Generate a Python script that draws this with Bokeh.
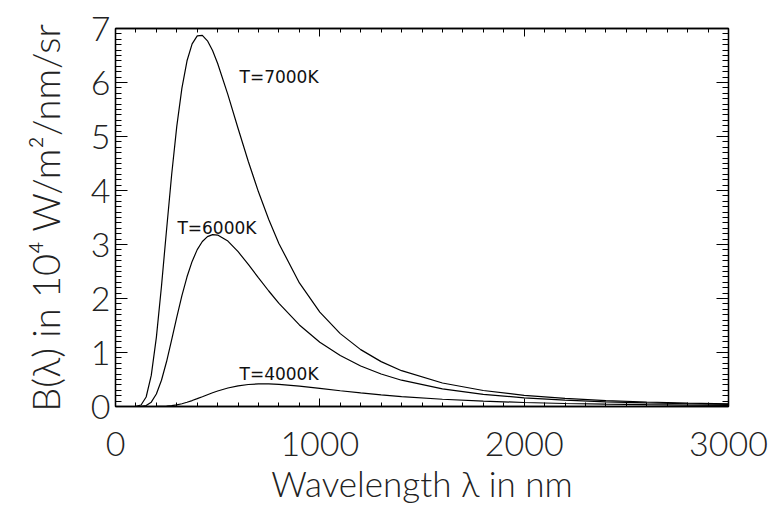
from bokeh.plotting import figure
from bokeh.models import Range1d, FixedTicker, LinearAxis, Label, CustomLabelingPolicy
from bokeh.embed import file_html
from bokeh.resources import INLINE

# Wavelength samples (nm) and spectral radiance (10^4 W/m^2/nm/sr)
wavelength_nm = [10, 100, 125, 150, 175, 200, 225, 250, 275, 300, 325, 350, 375, 400,
                 425, 450, 475, 500, 550, 600, 650, 700, 750, 800, 900, 1000, 1100,
                 1200, 1300, 1400, 1600, 1800, 2000, 2200, 2400, 2600, 2800, 3000]
b_7000 = [0.0, 0.0014, 0.028, 0.176, 0.575, 1.281, 2.227, 3.279, 4.300, 5.191, 5.897,
          6.402, 6.716, 6.863, 6.872, 6.772, 6.591, 6.352, 5.776, 5.149, 4.537, 3.971,
          3.462, 3.015, 2.288, 1.749, 1.350, 1.053, 0.831, 0.663, 0.435, 0.296, 0.207,
          0.150, 0.110, 0.083, 0.064, 0.050]
b_6000 = [0.0, 0.0, 0.002, 0.018, 0.081, 0.231, 0.486, 0.833, 1.237, 1.656, 2.053,
          2.402, 2.687, 2.905, 3.055, 3.145, 3.182, 3.175, 3.063, 2.867, 2.631, 2.382,
          2.139, 1.909, 1.510, 1.191, 0.943, 0.751, 0.602, 0.487, 0.327, 0.226, 0.161,
          0.117, 0.087, 0.066, 0.051, 0.040]
b_4000 = [0.0, 0.0, 0.0, 0.0, 0.0001, 0.0006, 0.0024, 0.0069, 0.0158, 0.0304, 0.0513,
          0.078, 0.110, 0.145, 0.181, 0.218, 0.254, 0.287, 0.342, 0.383, 0.407, 0.418,
          0.418, 0.410, 0.378, 0.336, 0.292, 0.251, 0.215, 0.184, 0.134, 0.099, 0.074,
          0.056, 0.043, 0.034, 0.027, 0.021]

curve_labels = ["T=7000K", "T=6000K", "T=4000K"]
x_ticks = [0, 1000, 2000, 3000]
y_ticks = [0, 1, 2, 3, 4, 5, 6, 7]
x_title = "Wavelength λ in nm"
y_title = "B(λ) in 10⁴ W/m²/nm/sr"

FONT = "Lato Light"
TXT = "#222222"

p = figure(frame_width=613, frame_height=378,
           min_border_left=115, min_border_right=48,
           min_border_top=28, min_border_bottom=99,
           x_range=Range1d(0, 3000), y_range=Range1d(0, 7),
           output_backend="svg", toolbar_location=None,
           background_fill_color="white", border_fill_color="white")
p.xgrid.visible = False
p.ygrid.visible = False
p.outline_line_color = "black"
p.outline_line_width = 1.3

x_ticker = FixedTicker(ticks=x_ticks, minor_ticks=list(range(0, 3001, 100)))
y_ticker = FixedTicker(ticks=y_ticks, minor_ticks=[i / 10 for i in range(71)])

hide_labels = CustomLabelingPolicy(
    code="for (let i = 0; i < indices.size; i++) { indices.unset(i) }\nreturn indices")


def style_axis(ax, ticker, major_len, show_labels):
    ax.ticker = ticker
    ax.axis_line_color = "black"
    ax.axis_line_width = 1.3
    ax.major_tick_in = major_len
    ax.major_tick_out = 0
    ax.minor_tick_in = major_len // 2
    ax.minor_tick_out = 0
    ax.major_tick_line_color = "black"
    ax.minor_tick_line_color = "black"
    ax.major_tick_line_width = 1
    ax.minor_tick_line_width = 1
    if show_labels:
        ax.major_label_text_font = FONT
        ax.major_label_text_font_size = "34px"
        ax.major_label_text_color = TXT
        ax.axis_label_text_font = FONT
        ax.axis_label_text_font_size = "35px"
        ax.axis_label_text_font_style = "normal"
        ax.axis_label_text_color = TXT
    else:
        ax.major_label_policy = hide_labels
        ax.major_label_text_font_size = "8px"
        ax.major_label_standoff = 0


xa = p.xaxis[0]
ya = p.yaxis[0]
style_axis(xa, x_ticker, 8, True)
style_axis(ya, y_ticker, 12, True)
xa.axis_label = x_title
xa.major_label_standoff = 25
xa.axis_label_standoff = 3
ya.axis_label = y_title
ya.axis_label_text_font_size = "38px"
ya.major_label_standoff = 5
ya.axis_label_standoff = 20

top = LinearAxis()
style_axis(top, x_ticker, 8, False)
p.add_layout(top, "above")
right = LinearAxis()
style_axis(right, y_ticker, 12, False)
p.add_layout(right, "right")

for ys in (b_7000, b_6000, b_4000):
    p.line(wavelength_nm, ys, line_color="black", line_width=1.2)

label_pos = [(607, 6.10), (303, 3.31), (607, 0.61)]
for txt, (lx, ly) in zip(curve_labels, label_pos):
    p.add_layout(Label(x=lx, y=ly, text=txt, text_font="DejaVu Sans",
                       text_font_size="17px", text_color="#111111",
                       text_baseline="middle", text_align="left"))

open("out.html", "w").write(file_html(p, INLINE))
